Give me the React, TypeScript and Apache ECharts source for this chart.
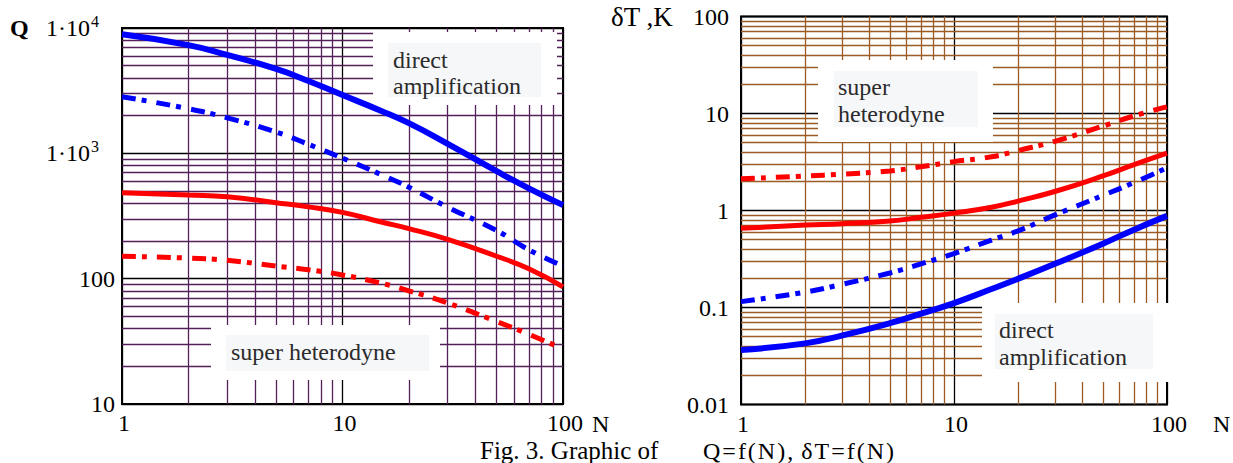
import React, { useEffect, useRef } from 'react';
import * as echarts from 'echarts';

// Shared N values (x axis, log)
const N = [1, 2, 3, 5, 7, 10, 15, 20, 30, 50, 70, 100];

// Left chart: Q = f(N)
const qDirect = [8900, 7300, 6100, 4710, 3780, 2920, 2180, 1740, 1190, 720, 525, 386];
const qDirectDash = [2830, 2270, 1920, 1480, 1180, 915, 676, 537, 372, 242, 170, 126];
const qSuper = [485, 465, 451, 404, 374, 338, 283, 251, 206, 151, 120, 86];
const qSuperDash = [151, 146, 140, 126, 118, 107, 92, 80, 64, 45.5, 36, 27.5];

// Right chart: dT = f(N)
const dtSuperDash = [2.12, 2.27, 2.37, 2.56, 2.82, 3.19, 3.58, 4.15, 5.19, 7.41, 9.45, 11.7];
const dtSuper = [0.655, 0.707, 0.73, 0.78, 0.851, 0.94, 1.08, 1.25, 1.58, 2.27, 2.97, 3.9];
const dtDirectDash = [0.115, 0.144, 0.174, 0.227, 0.282, 0.36, 0.496, 0.617, 0.906, 1.43, 1.94, 2.75];
const dtDirect = [0.0365, 0.0427, 0.0516, 0.0689, 0.0865, 0.111, 0.155, 0.198, 0.284, 0.455, 0.635, 0.88];

// Minor grid values
const nMinor = [2, 3, 4, 5, 6, 7, 8, 9, 20, 30, 40, 50, 60, 70, 80, 90];
const qMinor = [20, 30, 40, 50, 60, 70, 80, 90, 200, 300, 400, 500, 600, 700, 800, 900, 2000, 3000, 4000, 5000, 6000, 7000, 8000, 9000];
const dtMinor = [0.02, 0.03, 0.04, 0.05, 0.06, 0.07, 0.08, 0.09, 0.2, 0.3, 0.4, 0.5, 0.6, 0.7, 0.8, 0.9, 2, 3, 4, 5, 6, 7, 8, 9, 20, 30, 40, 50, 60, 70, 80, 90];

const FONT = '"Liberation Serif", "Times New Roman", serif';
const BLUE = '#0000ff';
const RED = '#ff0000';
const PURPLE = '#55205a';
const BROWN = '#9b5b24';
const DASHDOT = [14, 6, 5, 10];
const HS = '\u200a';

const pairs = (ys: number[]) => N.map((n, i) => [n, ys[i]]);

const minorLines = (xs: number[], ys: number[], color: string) => ({
  silent: true,
  symbol: 'none',
  z: 1,
  label: { show: false },
  emphasis: { disabled: true },
  lineStyle: { color, width: 1.3, type: 'solid' },
  data: [...xs.map((v) => ({ xAxis: v })), ...ys.map((v) => ({ yAxis: v }))],
});

const lineSeries = (
  data: number[],
  color: string,
  width: number,
  dashed: boolean,
  idx: number,
  extra: any = {}
) => ({
  type: 'line',
  xAxisIndex: idx,
  yAxisIndex: idx,
  data: pairs(data),
  showSymbol: false,
  smooth: 0.5,
  z: 3,
  lineStyle: { color, width, type: dashed ? DASHDOT : 'solid', cap: 'butt' },
  ...extra,
});

const labelStyle = { fontFamily: FONT, fontSize: 24, color: '#000' };

const rect = (x: number, y: number, w: number, h: number, fill: string, z: number) => ({
  type: 'rect',
  z,
  silent: true,
  shape: { x, y, width: w, height: h },
  style: { fill },
});

const txt = (x: number, y: number, text: string, size = 24, weight = 'normal', fill = '#000') => ({
  type: 'text',
  z: 5,
  silent: true,
  x,
  y,
  style: {
    text,
    font: `${weight} ${size}px ${FONT}`,
    fill,
    textAlign: 'left',
    textVerticalAlign: 'middle',
  },
});

const ANN = '#2b2b2b';

export default function App() {
  const ref = useRef<HTMLDivElement>(null);
  useEffect(() => {
    if (!ref.current) return;
    const chart = echarts.init(ref.current, null, { renderer: 'svg' });
    const supFmt = (v: number) => {
      const r = Math.round(v);
      if (r === 1000) return '{b|1·10}{s|3}';
      if (r === 10000) return '{b|1·10}{s|4}';
      return '{b|' + r + '}';
    };
    chart.setOption({
      animation: false,
      backgroundColor: '#fff',
      grid: [
        { left: 122, top: 28, width: 441, height: 376, show: true, borderColor: '#000', borderWidth: 2, backgroundColor: 'transparent' },
        { left: 741, top: 16.5, width: 426, height: 388, show: true, borderColor: '#000', borderWidth: 2, backgroundColor: 'transparent' },
      ],
      xAxis: [0, 1].map((i) => ({
        type: 'log',
        logBase: 10,
        gridIndex: i,
        min: 1,
        max: 100,
        axisLine: { show: false },
        axisTick: { show: false },
        splitLine: { show: true, lineStyle: { color: '#000', width: 1.3 } },
        axisLabel: { ...labelStyle, margin: 7, padding: [0, 0, 0, 4] },
      })),
      yAxis: [
        {
          type: 'log',
          logBase: 10,
          gridIndex: 0,
          min: 10,
          max: 10000,
          axisLine: { show: false },
          axisTick: { show: false },
          splitLine: { show: true, lineStyle: { color: '#000', width: 1.3 } },
          axisLabel: {
            margin: 7,
            formatter: supFmt,
            rich: {
              b: { fontFamily: FONT, fontSize: 24, color: '#000' },
              s: { fontFamily: FONT, fontSize: 16, color: '#000', padding: [0, 16, 14, 1] },
            },
          },
        },
        {
          type: 'log',
          logBase: 10,
          gridIndex: 1,
          min: 0.01,
          max: 100,
          axisLine: { show: false },
          axisTick: { show: false },
          splitLine: { show: true, lineStyle: { color: '#000', width: 1.3 } },
          axisLabel: {
            ...labelStyle,
            margin: 12,
            formatter: (v: number) => {
              if (v < 0.05) return '0.01';
              if (v < 0.5) return '0.1';
              return String(Math.round(v));
            },
          },
        },
      ],
      series: [
        lineSeries(qDirect, BLUE, 6, false, 0, { markLine: minorLines(nMinor, qMinor, PURPLE) }),
        lineSeries(qDirectDash, BLUE, 5, true, 0),
        lineSeries(qSuper, RED, 5, false, 0),
        lineSeries(qSuperDash, RED, 5, true, 0),
        lineSeries(dtDirect, BLUE, 6, false, 1, { markLine: minorLines(nMinor, dtMinor, BROWN) }),
        lineSeries(dtDirectDash, BLUE, 5, true, 1),
        lineSeries(dtSuper, RED, 5, false, 1),
        lineSeries(dtSuperDash, RED, 5, true, 1),
      ],
      graphic: [
        // left chart annotation boxes
        rect(373, 32, 184, 73, '#fff', 2),
        rect(388, 43, 153, 54, '#f6f7f9', 2.5),
        txt(393, 60, 'direct', 24, 'normal', ANN),
        txt(393, 86, 'amplification', 24, 'normal', ANN),
        rect(211, 325, 229, 55, '#fff', 2),
        rect(226, 335, 203, 36, '#f6f7f9', 2.5),
        txt(231, 352, 'super heterodyne', 24, 'normal', ANN),
        // right chart annotation boxes
        rect(818, 60, 175, 82, '#fff', 2),
        rect(834, 71, 144, 56, '#f6f7f9', 2.5),
        txt(838, 87, 'super', 24, 'normal', ANN),
        txt(838, 114, 'heterodyne', 24, 'normal', ANN),
        rect(982, 303, 192, 79, '#fff', 2),
        rect(995, 314, 158, 55, '#f6f7f9', 2.5),
        txt(999, 330, 'direct', 24, 'normal', ANN),
        txt(999, 357, 'amplification', 24, 'normal', ANN),
        // axis titles
        txt(10, 28, 'Q', 24, 'bold'),
        txt(611, 17, 'δT ,K', 27),
        txt(592, 424, 'N', 24),
        txt(1213, 424, 'N', 24),
        // caption
        txt(480, 450.5, 'Fig. 3. Graphic of', 25),
        txt(703, 450.5, ['Q', '=', 'f', '(', 'N', ')', ',', ' δ', 'T', '=', 'f', '(', 'N', ')'].join(HS), 24),
      ],
    });
    return () => chart.dispose();
  }, []);
  return (
    <div
      ref={ref}
      style={{ position: 'fixed', left: 0, top: 0, width: 1233, height: 463, background: '#fff' }}
    />
  );
}
